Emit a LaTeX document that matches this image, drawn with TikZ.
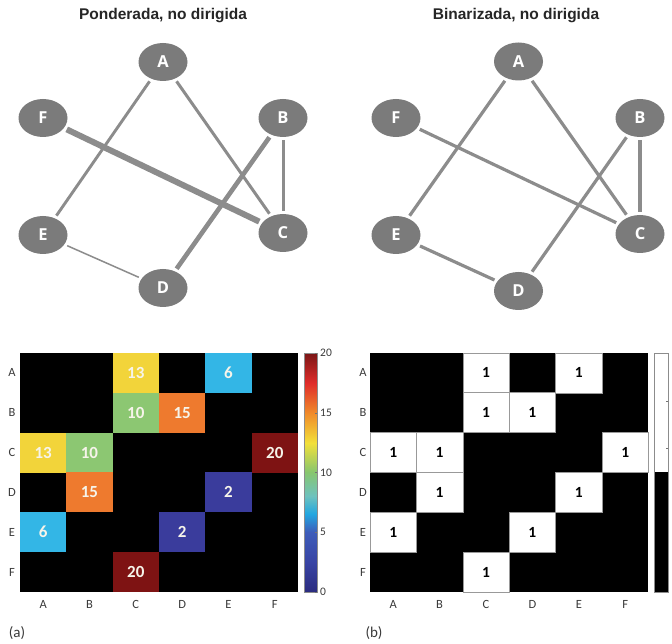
\documentclass[tikz,border=0pt]{standalone}
\usepackage{fontspec}
\setmainfont{Carlito}
\newfontfamily\titlefont{Liberation Sans}
\newfontfamily\letterfont{Open Sans}
\usetikzlibrary{shapes.geometric}

\definecolor{nodegray}{HTML}{7B7B7B}
\definecolor{edgegray}{HTML}{8C8C8C}
\definecolor{labelgray}{HTML}{3A3A3A}
\definecolor{cellwhite}{HTML}{F6F4EA}
% jet-like colours of the weighted matrix
\definecolor{jA}{HTML}{2B2C7F}
\definecolor{jB}{HTML}{3844A4}
\definecolor{jC}{HTML}{3E5DBA}
\definecolor{jD}{HTML}{22A6E0}
\definecolor{jE}{HTML}{6EC2BE}
\definecolor{jF}{HTML}{88C66E}
\definecolor{jG}{HTML}{F2E03A}
\definecolor{jH}{HTML}{F08A2A}
\definecolor{jI}{HTML}{E02C2A}
\definecolor{jJ}{HTML}{7A1616}
\definecolor{v2}{HTML}{3A3C9C}
\definecolor{v6}{HTML}{33B6E6}
\definecolor{v10}{HTML}{8CC772}
\definecolor{v13}{HTML}{F2D43A}
\definecolor{v15}{HTML}{EE7A2E}
\definecolor{v20}{HTML}{7E1313}

\begin{document}
\begin{tikzpicture}[x=1pt,y=-1pt,
  vertex/.style={ellipse, fill=nodegray, minimum width=49pt, minimum height=38pt,
    inner sep=0pt, text=white, font=\letterfont\bfseries\fontsize{16.5}{16.5}\selectfont},
  link/.style={draw=edgegray, shorten >=3pt, shorten <=3pt},
  title/.style={font=\titlefont\bfseries\fontsize{15.5}{18}\selectfont, text=black!85},
  axislab/.style={font=\fontsize{12.5}{12.5}\selectfont, text=labelgray, inner sep=0pt},
  ticklab/.style={font=\fontsize{11.5}{11.5}\selectfont, text=labelgray, inner sep=0pt, anchor=west},
  wcell/.style={minimum width=46.4pt, minimum height=39.9pt, inner sep=0pt, outer sep=0pt,
    text=cellwhite, font=\bfseries\fontsize{17}{17}\selectfont},
  bcell/.style={fill=white, draw=black!40, line width=0.6pt, minimum width=46.4pt,
    minimum height=39.9pt, inner sep=0pt, outer sep=0pt, text=black,
    font=\bfseries\fontsize{15.5}{15.5}\selectfont},
  panel/.style={font=\fontsize{15}{15}\selectfont, text=labelgray}]
\useasboundingbox (0,0) rectangle (672,644);
\fill[white] (0,0) rectangle (672,644);

% ---------- weighted, undirected graph ----------
\node[title] (t1) at (163,16) {Ponderada, no dirigida};
\node[vertex] (lA) at (163,62) {A};
\node[vertex] (lF) at (43,118) {F};
\node[vertex] (lB) at (283,118) {B};
\node[vertex] (lE) at (43,235) {E};
\node[vertex] (lC) at (283,233) {C};
\node[vertex] (lD) at (163,288) {D};
\draw[link, line width=2.9pt] (lA) -- (lE);
\draw[link, line width=3pt] (lA) -- (lC);
\draw[link, line width=6pt] (lF) -- (lC);
\draw[link, line width=4.6pt] (lB) -- (lD);
\draw[link, line width=3pt] (lB) -- (lC);
\draw[link, line width=1.5pt] (lE) -- (lD);

% ---------- binary, undirected graph ----------
\node[title] (t2) at (516,16) {Binarizada, no dirigida};
\node[vertex] (rA) at (518.5,61.5) {A};
\node[vertex] (rF) at (396,118) {F};
\node[vertex] (rB) at (640,118) {B};
\node[vertex] (rE) at (396,235) {E};
\node[vertex] (rC) at (640,234) {C};
\node[vertex] (rD) at (518.5,291) {D};
\foreach \u/\v in {rA/rE, rA/rC, rF/rC, rB/rD, rB/rC, rE/rD}
  \draw[link, line width=3.2pt] (\u) -- (\v);

% ---------- weighted adjacency matrix ----------
\fill[black] (20,353) rectangle (298,592);
\foreach \r/\c/\w in {1/3/13, 1/5/6, 2/3/10, 2/4/15, 3/1/13, 3/2/10, 3/6/20,
                      4/2/15, 4/5/2, 5/1/6, 5/4/2, 6/3/20}
  \node[wcell, fill=v\w] (wa-\r-\c) at ({20+(\c-0.5)*46.33},{353+(\r-0.5)*39.83}) {\w};
\foreach \l [count=\i] in {A,B,C,D,E,F} {
  \node[axislab] (ra-\l) at (12,{353+(\i-0.5)*39.83}) {\l};
  \node[axislab] (ca-\l) at ({20+(\i-0.5)*46.33},604) {\l};
}
% colour bar
\foreach \ya/\yb/\ca/\cb in {592/562/jA/jB, 562/532/jB/jC, 532/514/jC/jD,
    514/496/jD/jE, 496/472/jE/jF, 472/443/jF/jG, 443/413/jG/jH,
    413/383/jH/jI, 383/353/jI/jJ}
  \shade[bottom color=\ca, top color=\cb] (304,\ya) rectangle (317,\yb);
\draw[black!45, line width=0.5pt] (304,353) rectangle (317,592);
\foreach \v in {0,5,10,15,20} {
  \draw[black!55, line width=0.5pt] (317,{592-\v*11.95}) -- (315,{592-\v*11.95});
  \node[ticklab] (tk-\v) at (320,{592-\v*11.95}) {\v};
}
\node[panel] (pa) at (17,633) {(a)};

% ---------- binary adjacency matrix ----------
\fill[black] (370,353) rectangle (648.4,592);
\foreach \r/\c in {1/3, 1/5, 2/3, 2/4, 3/1, 3/2, 3/6, 4/2, 4/5, 5/1, 5/4, 6/3}
  \node[bcell] (wb-\r-\c) at ({370+(\c-0.5)*46.4},{353+(\r-0.5)*39.83}) {1};
\foreach \l [count=\i] in {A,B,C,D,E,F} {
  \node[axislab] (rb-\l) at (363,{353+(\i-0.5)*39.83}) {\l};
  \node[axislab] (cb-\l) at ({370+(\i-0.5)*46.4},604) {\l};
}
% two-level colour bar
\fill[white] (654,353) rectangle (668,472);
\fill[black] (654,472) rectangle (668,592);
\draw[black!45, line width=0.5pt] (654,353) rectangle (668,592);
\foreach \y in {401,448}
  \draw[black!55, line width=0.5pt] (668,\y) -- (666,\y);
\node[panel] (pb) at (374,633) {(b)};
\end{tikzpicture}
\end{document}
